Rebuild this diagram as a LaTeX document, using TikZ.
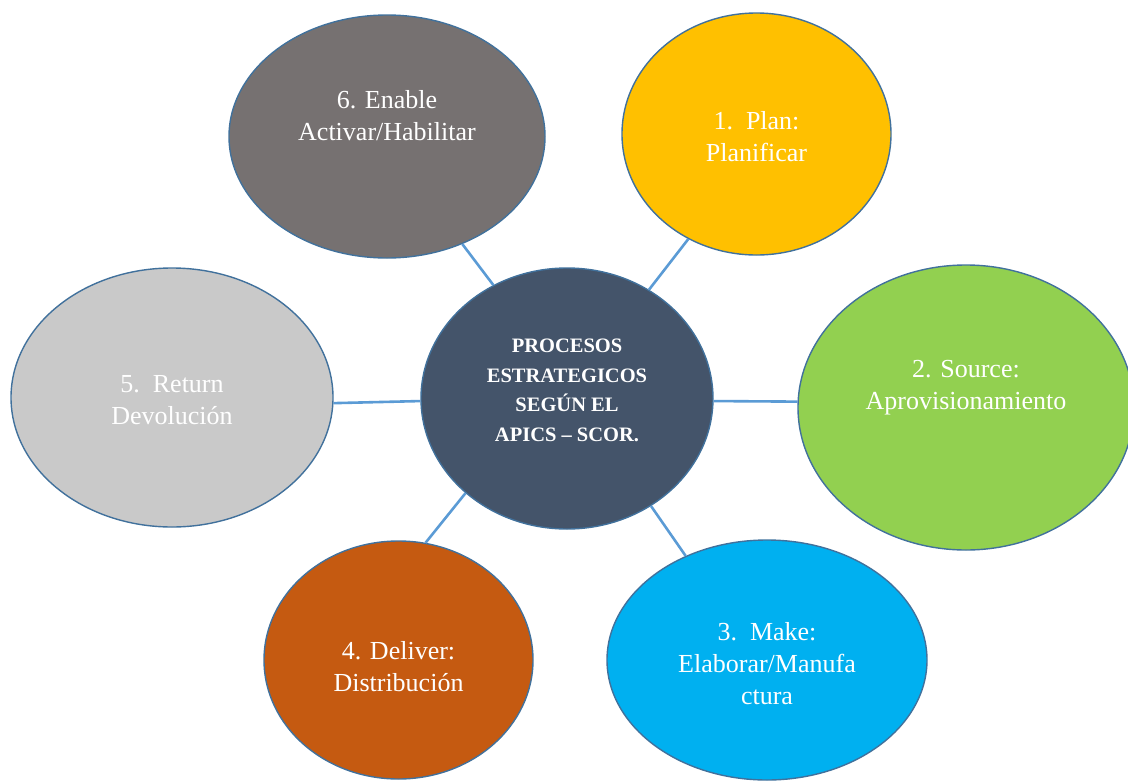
\documentclass[tikz,border=0pt]{standalone}
\usepackage{fontspec}
\setmainfont{Liberation Serif}
\usetikzlibrary{shapes.geometric}
\definecolor{rimblue}{HTML}{41719C}
\definecolor{linkblue}{HTML}{5B9BD5}
\definecolor{coreslate}{HTML}{44546A}
\definecolor{enablegray}{HTML}{767171}
\definecolor{planyellow}{HTML}{FFC000}
\definecolor{sourcegreen}{HTML}{92D050}
\definecolor{makecyan}{HTML}{00B0F0}
\definecolor{deliverorange}{HTML}{C55A11}
\definecolor{returngray}{HTML}{C9C9C9}

\begin{document}
\begin{tikzpicture}[x=1pt, y=-1pt,
	bubble/.style={ellipse, draw=rimblue, line width=1.4pt, inner sep=0pt},
	txt/.style={text=white, align=center, inner sep=0pt, font=\fontsize{26}{32}\selectfont},
	link/.style={draw=linkblue, line width=2.6pt}]
	\useasboundingbox (0,0) rectangle (1128,780);

	% the six process bubbles round the core
	\node[bubble, fill=coreslate, minimum width=292pt, minimum height=261pt] (core) at (567,398.5) {};
	\node[bubble, fill=enablegray, minimum width=316pt, minimum height=243pt] (enable) at (387,136.5) {};
	\node[bubble, fill=planyellow, minimum width=269pt, minimum height=242pt] (plan) at (756.5,134) {};
	\node[bubble, fill=sourcegreen, minimum width=336pt, minimum height=285pt] (source) at (966,407.5) {};
	\node[bubble, fill=returngray, minimum width=322pt, minimum height=259pt] (return) at (172,397.5) {};
	\node[bubble, fill=deliverorange, minimum width=269pt, minimum height=238pt] (deliver) at (398.5,660) {};
	\node[bubble, fill=makecyan, minimum width=320pt, minimum height=240pt] (make) at (767,660) {};

	% spokes
	\foreach \a/\b in {core.123.9/enable.-55.7, core.53.6/plan.237.9, core.-1.8/source.178.3,
		core.181.8/return.-2, core.223.4/deliver.77.1, core.-52.8/make.128.5}
		\draw[link] (\a) -- (\b);

	% labels
	\node[txt, font=\bfseries\fontsize{20.5}{29.5}\selectfont] (coretxt) at ([yshift=8pt]core.center)
		{PROCESOS\\ESTRATEGICOS\\SEGÚN EL\\APICS -- SCOR.};
	\node[txt] (enabletxt) at ([yshift=21pt]enable.center) {6. Enable\\Activar/Habilitar};
	\node[txt] (plantxt) at ([yshift=-3pt]plan.center) {1.~~Plan:\\Planificar};
	\node[txt] (sourcetxt) at ([yshift=20pt]source.center) {2. Source:\\Aprovisionamiento};
	\node[txt] (returntxt) at ([yshift=-3pt]return.center) {5.~~Return\\Devolución};
	\node[txt] (delivertxt) at ([yshift=-7pt]deliver.center) {4. Deliver:\\Distribución};
	\node[txt] (maketxt) at ([yshift=-4pt]make.center) {3.~~Make:\\Elaborar/Manufa\\ctura};
\end{tikzpicture}
\end{document}
